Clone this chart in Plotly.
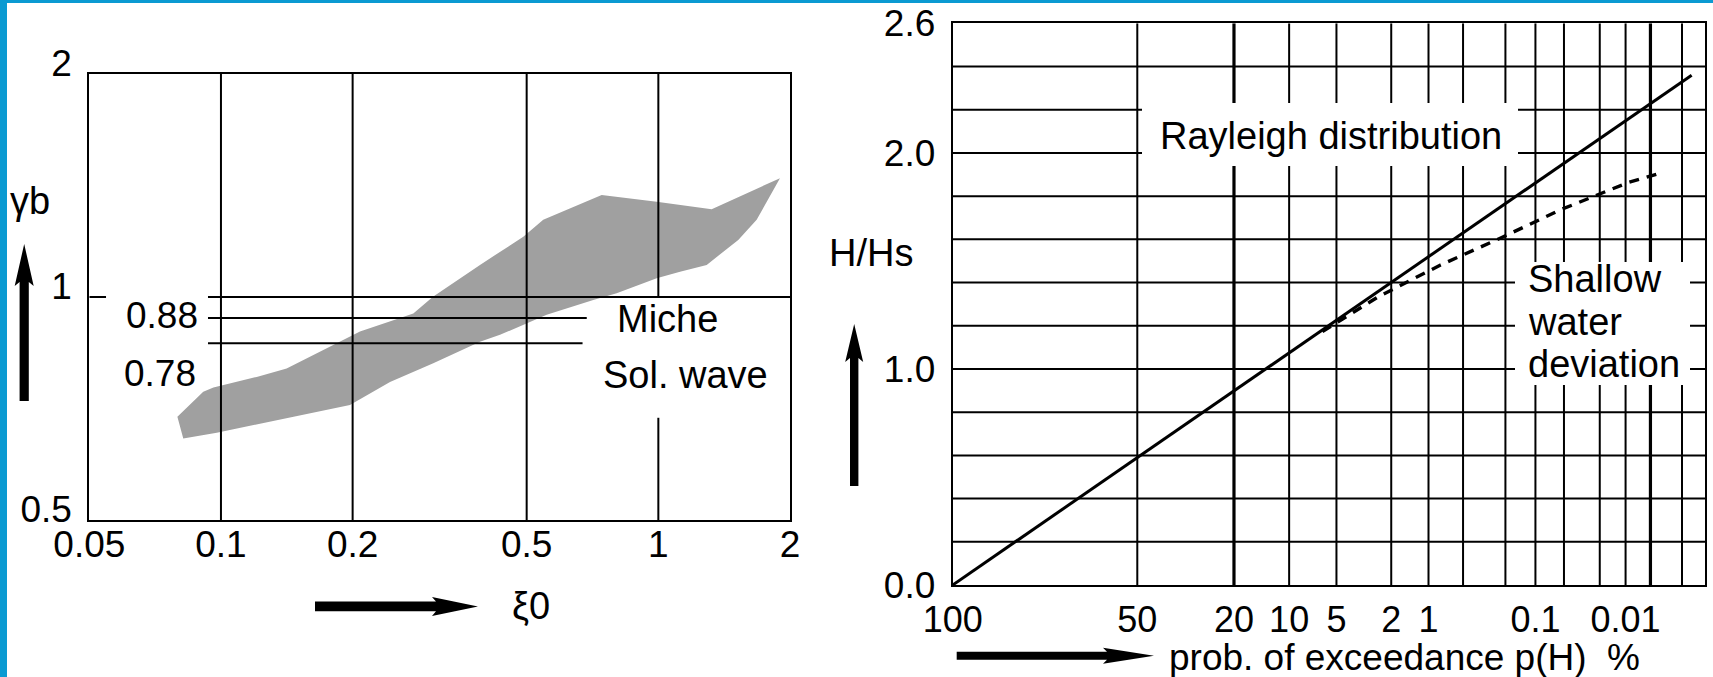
import math
import plotly.graph_objects as go

W, H = 1713, 677
FONT = "Liberation Sans, Arial, Helvetica, sans-serif"

# ---------------- left panel: breaker index vs surf similarity ----------------
xi_ticks = [0.05, 0.1, 0.2, 0.5, 1, 2]
xi_ticktext = ["0.05", "0.1", "0.2", "0.5", "1", "2"]
gamma_ticks = [0.5, 1, 2]
gamma_ticktext = ["0.5", "1", "2"]
xi_grid_full = [0.1, 0.2, 0.5]

band_upper_x = [0.0795, 0.0911, 0.0961, 0.1207, 0.1413, 0.1684, 0.2079, 0.2753,
                0.3053, 0.391, 0.4912, 0.5455, 0.7421, 0.9913, 1.324, 1.897]
band_upper_y = [0.689, 0.745, 0.755, 0.780, 0.801, 0.844, 0.898, 0.950,
                1.001, 1.105, 1.206, 1.271, 1.373, 1.345, 1.314, 1.447]
band_lower_x = [1.678, 1.523, 1.290, 1.121, 0.9913, 0.803, 0.710, 0.5555,
                0.4345, 0.391, 0.3058, 0.2435, 0.1972, 0.0978, 0.082]
band_lower_y = [1.271, 1.194, 1.105, 1.082, 1.060, 1.012, 0.991, 0.946,
                0.889, 0.870, 0.814, 0.768, 0.715, 0.656, 0.644]

# reference levels: labels and the heights at which they are drawn in the picture
ref_labels = ["0.88", "0.78"]
ref_levels_drawn = [0.937, 0.866]
ref_level_end_x = [0.686, 0.671]
ref_names = ["Miche", "Sol. wave"]

# ---------------- right panel: Rayleigh probability paper ----------------
p_grid = [50, 20, 10, 5, 2, 1, 0.5, 0.2, 0.1, 0.05, 0.02, 0.01, 0.005, 0.002]
p_grid_thick = [20, 0.005]
p_ticks = [100, 50, 20, 10, 5, 2, 1, 0.1, 0.01]
p_ticktext = ["100", "50", "20", "10", "5", "2", "1", "0.1", "0.01"]
p_right_edge = 0.001
h_grid = [0.2, 0.4, 0.6, 0.8, 1.0, 1.2, 1.4, 1.6, 1.8, 2.0, 2.2, 2.4]
h_ticks = [0.0, 1.0, 2.0, 2.6]
h_ticktext = ["0.0", "1.0", "2.0", "2.6"]

rayleigh_p = [100, 0.0015]
rayleigh_h = [0.0, 2.36]
shallow_p = [6.2, 2.5, 0.79, 0.225, 0.053, 0.0093, 0.0038]
shallow_h = [1.173, 1.335, 1.481, 1.605, 1.739, 1.863, 1.906]


def ray(p):
    """Rayleigh paper abscissa for exceedance probability p in %."""
    return math.sqrt(-math.log(p / 100.0) / 2.0)


def px(x):
    return x / W


def py(y):
    return 1 - y / H


fig = go.Figure()

# ---- left panel traces ----
fig.add_trace(go.Scatter(
    x=band_upper_x + band_lower_x + [band_upper_x[0]],
    y=band_upper_y + band_lower_y + [band_upper_y[0]],
    mode="lines", fill="toself", fillcolor="#a0a0a0",
    line=dict(width=0, color="#a0a0a0"), xaxis="x", yaxis="y",
    hoverinfo="skip", showlegend=False))

gx, gy = [], []
for v in xi_grid_full:
    gx += [v, v, None]
    gy += [0.5, 2, None]
# xi = 1 line is interrupted around the labels
gx += [1, 1, None, 1, 1, None]
gy += [1, 2, None, 0.5, 0.687, None]
# gamma = 1 line and short tick on the axis
gx += [0.0934, 2, None, 0.05, 0.0546, None]
gy += [1, 1, None, 1, 1, None]
for lvl, xe in zip(ref_levels_drawn, ref_level_end_x):
    gx += [0.0934, xe, None]
    gy += [lvl, lvl, None]
fig.add_trace(go.Scatter(x=gx, y=gy, mode="lines", line=dict(color="black", width=2),
                         xaxis="x", yaxis="y", hoverinfo="skip", showlegend=False))

# ---- right panel grid ----
u_max = ray(p_right_edge)
vx, vy, tx, ty = [], [], [], []
for p in p_grid:
    if p in p_grid_thick:
        tx += [ray(p), ray(p), None]
        ty += [0, 2.6, None]
    else:
        vx += [ray(p), ray(p), None]
        vy += [0, 2.6, None]
for h in h_grid:
    vx += [0, u_max, None]
    vy += [h, h, None]
fig.add_trace(go.Scatter(x=vx, y=vy, mode="lines", line=dict(color="black", width=2),
                         xaxis="x2", yaxis="y2", hoverinfo="skip", showlegend=False))
fig.add_trace(go.Scatter(x=tx, y=ty, mode="lines", line=dict(color="black", width=3.2),
                         xaxis="x2", yaxis="y2", hoverinfo="skip", showlegend=False))

fig.add_trace(go.Scatter(x=[ray(p) for p in rayleigh_p], y=rayleigh_h, mode="lines",
                         line=dict(color="black", width=3), xaxis="x2", yaxis="y2",
                         showlegend=False, name="Rayleigh distribution"))
fig.add_trace(go.Scatter(x=[ray(p) for p in shallow_p], y=shallow_h, mode="lines",
                         line=dict(color="black", width=3.4, dash="10px,8px"),
                         xaxis="x2", yaxis="y2", showlegend=False,
                         name="Shallow water deviation"))

axis_common = dict(showgrid=False, zeroline=False, showline=True, linecolor="black",
                   linewidth=2, mirror=True, ticks="", automargin=False,
                   tickfont=dict(family=FONT, size=37, color="black"))

fig.update_layout(
    template="none",
    width=W, height=H, margin=dict(l=0, r=0, t=0, b=0, pad=0, autoexpand=False),
    paper_bgcolor="white", plot_bgcolor="white", showlegend=False,
    xaxis=dict(type="log", range=[math.log10(0.05), math.log10(2)],
               domain=[px(89.3), px(790)], anchor="y",
               tickvals=xi_ticks, ticktext=xi_ticktext, ticklabelstandoff=-9,
               **axis_common),
    yaxis=dict(type="log", range=[math.log10(0.5), math.log10(2)],
               domain=[py(520), py(74)], anchor="x",
               tickvals=gamma_ticks, ticktext=gamma_ticktext,
               ticklabelstandoff=8, ticklabelshift=-11, **axis_common),
    xaxis2=dict(range=[0, u_max], domain=[px(952.7), px(1705)], anchor="y2",
                tickvals=[ray(p) for p in p_ticks], ticktext=p_ticktext,
                ticklabelstandoff=2, **axis_common),
    yaxis2=dict(range=[0, 2.6], domain=[py(585), py(23.3)], anchor="x2",
                tickvals=h_ticks, ticktext=h_ticktext, ticklabelstandoff=8,
                **axis_common),
)
fig.update_layout(xaxis2_tickfont_size=36)

shapes = []
# white boxes interrupting the grid behind the labels
for (x0, y0, x1, y1) in [(1142, 103, 1518, 166), (1515, 262, 1690, 385)]:
    shapes.append(dict(type="rect", xref="paper", yref="paper",
                       x0=px(x0), x1=px(x1), y0=py(y1), y1=py(y0),
                       fillcolor="white", line=dict(width=0), layer="above"))


def up_arrow(cx, y_tip, y_base, y_bot, sw, hw):
    pts = [(cx - sw, y_bot), (cx - sw, y_base), (cx - hw, y_base + 4), (cx, y_tip),
           (cx + hw, y_base + 4), (cx + sw, y_base), (cx + sw, y_bot)]
    return "M " + " L ".join(f"{px(a):.5f},{py(b):.5f}" for a, b in pts) + " Z"


def right_arrow(x_start, x_base, x_tip, cy, sw, hw):
    pts = [(x_start, cy - sw), (x_base, cy - sw), (x_base - 4, cy - hw), (x_tip, cy),
           (x_base - 4, cy + hw), (x_base, cy + sw), (x_start, cy + sw)]
    return "M " + " L ".join(f"{px(a):.5f},{py(b):.5f}" for a, b in pts) + " Z"


for path in [up_arrow(24.2, 244, 282, 401, 4.6, 9.5),
             right_arrow(315, 436, 478, 606.4, 4.8, 9.5),
             up_arrow(854.2, 324, 358, 486, 4.2, 9),
             right_arrow(956.7, 1107, 1154, 655.7, 4.0, 8)]:
    shapes.append(dict(type="path", xref="paper", yref="paper", path=path,
                       fillcolor="black", line=dict(width=0), layer="above"))

# blue frame of the picture
for (x0, y0, x1, y1) in [(0, 0, 7, H), (0, 0, W, 3)]:
    shapes.append(dict(type="rect", xref="paper", yref="paper",
                       x0=px(x0), x1=px(x1), y0=py(y1), y1=py(y0),
                       fillcolor="#0a9ad2", line=dict(width=0), layer="above"))
fig.update_layout(shapes=shapes)


def text(s, x, y, anchor="center", size=38):
    fig.add_annotation(text=s, x=px(x), y=py(y), xref="paper", yref="paper",
                       xanchor=anchor, yanchor="middle", showarrow=False,
                       font=dict(family=FONT, size=size, color="black"))


text(ref_labels[0], 162, 315, size=37)
text(ref_labels[1], 160, 373, size=37)
text(ref_names[0], 667, 319)
text(ref_names[1], 685, 375)
text("γb", 30, 201)
text("ξ0", 531, 606)
text("H/Hs", 871, 253)
text("Rayleigh distribution", 1331, 136)
text("Shallow", 1526, 279, anchor="left")
text("water", 1526, 322, anchor="left")
text("deviation", 1526, 364, anchor="left")
text("prob. of exceedance p(H) \u00a0%", 1167, 657, anchor="left", size=37)

fig.write_html("out.html")
